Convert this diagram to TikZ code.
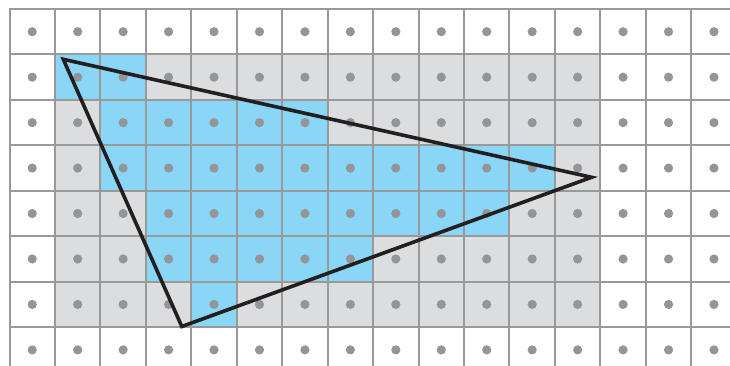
\documentclass[tikz,border=0pt]{standalone}
\begin{document}
\begin{tikzpicture}[x=1pt,y=-1pt,
  gridline/.style={draw=gridgray,line width=2pt},
  dotmark/.style={fill=dotgray},
  bbfill/.style={fill=boxgray},
  inside/.style={fill=cellblue},
  edge/.style={draw=edgeblack,line width=3.6pt,line join=miter}]
\definecolor{gridgray}{RGB}{153,153,153}
\definecolor{dotgray}{RGB}{147,149,152}
\definecolor{boxgray}{RGB}{220,221,222}
\definecolor{cellblue}{RGB}{138,214,246}
\definecolor{edgeblack}{RGB}{35,31,32}
\def\cs{45.45}
\def\ox{9.5}
\def\oy{9}
\useasboundingbox (0,0) rectangle (730,366);
\begin{scope}
\clip (0,0) rectangle (730,366);
\fill[white] (0,0) rectangle (730,366);
% bounding box of triangle
\path[bbfill] ({\ox+1*\cs},{\oy+1*\cs}) rectangle ({\ox+13*\cs},{\oy+7*\cs});
% covered cells
\foreach \r/\a/\b in {1/1/2,2/2/6,3/2/11,4/3/10,5/3/7,6/4/4}{
  \path[inside] ({\ox+\a*\cs},{\oy+\r*\cs}) rectangle ({\ox+(\b+1)*\cs},{\oy+(\r+1)*\cs});
}
% grid
\foreach \k in {0,...,15}{
  \draw[gridline] ({\ox+\k*\cs},\oy) -- ({\ox+\k*\cs},370);
}
\foreach \k in {0,...,7}{
  \draw[gridline] (\ox-1,{\oy+\k*\cs}) -- (735,{\oy+\k*\cs});
}
% sample dots
\foreach \i in {0,...,15}{
  \foreach \j in {0,...,7}{
    \path[dotmark] ({\ox+(\i+0.5)*\cs},{\oy+(\j+0.5)*\cs}) circle (4.6);
  }
}
\end{scope}
% triangle
\coordinate (A) at (63.3,59.3);
\coordinate (B) at (591.5,177.3);
\coordinate (C) at (181.8,326.5);
\draw[edge] (A) -- (B) -- (C) -- cycle;
\end{tikzpicture}
\end{document}
